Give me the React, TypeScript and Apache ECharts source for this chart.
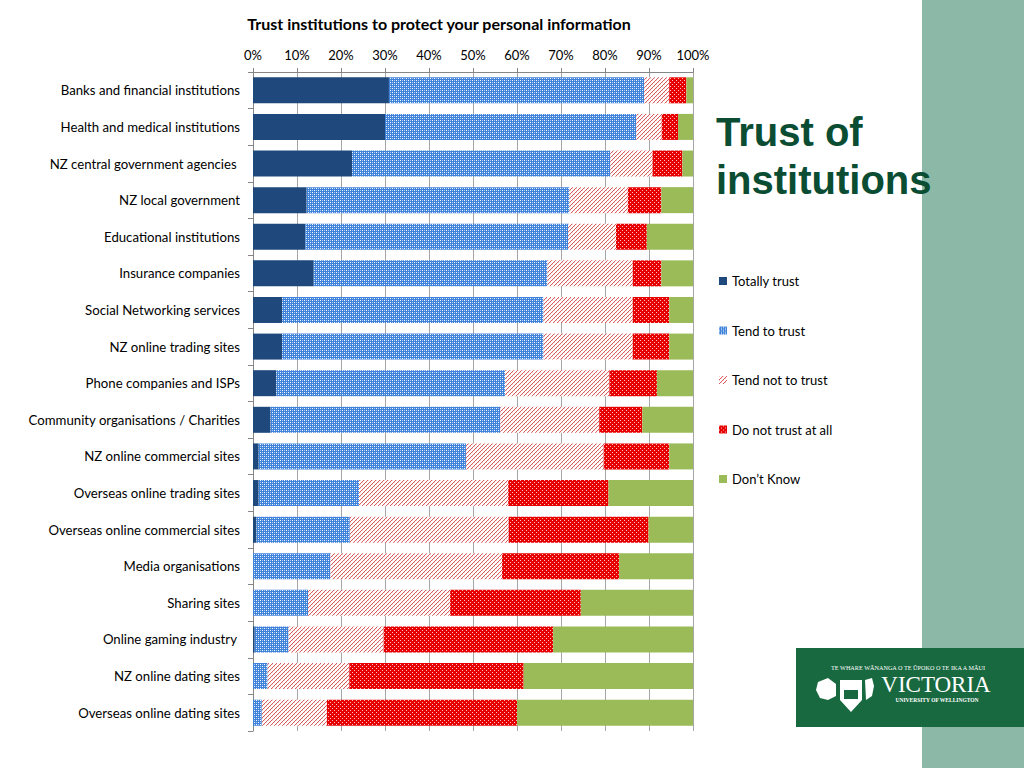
import React, { useEffect, useRef } from "react";
import * as echarts from "echarts";

const categories = [
  "Banks and financial institutions",
  "Health and medical institutions",
  "NZ central government agencies ",
  "NZ local government",
  "Educational institutions",
  "Insurance companies",
  "Social Networking services",
  "NZ online trading sites",
  "Phone companies and ISPs",
  "Community organisations / Charities",
  "NZ online commercial sites",
  "Overseas online trading sites",
  "Overseas online commercial sites",
  "Media organisations",
  "Sharing sites",
  "Online gaming industry ",
  "NZ online dating sites",
  "Overseas online dating sites",
];

const totallyTrust = [30.9, 30.0, 22.5, 12.2, 11.9, 13.8, 6.6, 6.6, 5.3, 4.0, 1.3, 1.3, 0.8, 0, 0, 0.4, 0, 0];
const tendToTrust = [58.0, 57.1, 58.7, 59.7, 59.7, 53.1, 59.4, 59.4, 52.0, 52.2, 47.1, 22.8, 21.2, 17.6, 12.5, 7.7, 3.3, 2.0];
const tendNotToTrust = [5.7, 5.8, 9.6, 13.3, 10.9, 19.4, 20.3, 20.3, 23.7, 22.5, 31.3, 33.9, 36.1, 39.0, 32.3, 21.6, 18.6, 14.8];
const doNotTrust = [3.9, 3.7, 6.8, 7.6, 7.0, 6.5, 8.3, 8.3, 10.8, 9.8, 14.9, 22.8, 31.8, 26.6, 29.7, 38.5, 39.6, 43.2];
const dontKnow = [1.5, 3.4, 2.4, 7.2, 10.5, 7.2, 5.4, 5.4, 8.2, 11.5, 5.4, 19.2, 10.1, 16.8, 25.5, 31.8, 38.5, 40.0];

const seriesNames = ["Totally trust", "Tend to trust", "Tend not to trust", "Do not trust at all", "Don\u2019t Know"];

const chartTitle = "Trust institutions to protect your personal information";

function makePattern(size: number, bg: string, pixels: [number, number, string][]) {
  const c = document.createElement("canvas");
  c.width = size;
  c.height = size;
  const ctx = c.getContext("2d")!;
  ctx.fillStyle = bg;
  ctx.fillRect(0, 0, size, size);
  for (const [x, y, col] of pixels) {
    ctx.fillStyle = col;
    ctx.fillRect(x, y, 1, 1);
  }
  return { image: c.toDataURL(), imageWidth: size, imageHeight: size, repeat: "repeat" } as any;
}

export default function App() {
  const ref = useRef<HTMLDivElement>(null);

  useEffect(() => {
    if (!ref.current) return;
    const chart = echarts.init(ref.current, null, { renderer: "svg" });

    const tendTrustPat = makePattern(4, "#3F82DA", [
      [0, 0, "#FFFFFF"],
      [2, 2, "#FFFFFF"],
      [2, 0, "#A9CAF2"],
      [0, 2, "#A9CAF2"],
    ]);
    const tendNotPat = makePattern(4, "#FFFFFF", [
      [3, 0, "#D85C5C"],
      [2, 1, "#D85C5C"],
      [1, 2, "#D85C5C"],
      [0, 3, "#D85C5C"],
      [0, 0, "#F4D2D2"],
      [2, 2, "#F4D2D2"],
    ]);
    const doNotPat = makePattern(4, "#E60000", [
      [0, 0, "#FAC0C0"],
      [2, 2, "#FAC0C0"],
    ]);

    const colors = ["#1F497D", tendTrustPat, tendNotPat, doNotPat, "#9BBB59"];
    const data = [totallyTrust, tendToTrust, tendNotToTrust, doNotTrust, dontKnow];

    const font = "Lato, 'Open Sans', sans-serif";

    chart.setOption({
      animation: false,
      backgroundColor: "#FFFFFF",
      textStyle: { fontFamily: font },
      grid: { left: 253, top: 72, width: 440, height: 659, containLabel: false },
      legend: {
        orient: "vertical",
        left: 714,
        top: 268,
        itemWidth: 8,
        itemHeight: 8,
        itemGap: 33.5,
        icon: "rect",
        data: seriesNames,
        textStyle: { fontSize: 13, color: "#000", fontFamily: font, lineHeight: 16 },
      },
      xAxis: {
        type: "value",
        position: "top",
        min: 0,
        max: 100,
        interval: 10,
        axisLine: { show: true, lineStyle: { color: "#868686", width: 1 } },
        axisTick: { show: true, length: 4, lineStyle: { color: "#868686" } },
        splitLine: { show: true, lineStyle: { color: "#A6A6A6", width: 1 } },
        axisLabel: { formatter: "{value}%", fontSize: 13, color: "#000", margin: 11, fontFamily: font },
      },
      yAxis: {
        type: "category",
        inverse: true,
        data: categories,
        axisLine: { show: true, lineStyle: { color: "#868686", width: 1 } },
        axisTick: { show: true, length: 5, interval: 0, lineStyle: { color: "#868686" } },
        axisLabel: { fontSize: 13.2, color: "#000", margin: 13, interval: 0, fontFamily: font, padding: [0, 0, 2, 0] },
      },
      series: seriesNames.map((name, i) => ({
        name,
        type: "bar",
        stack: "total",
        barWidth: 26,
        data: data[i],
        itemStyle: { color: colors[i] },
        emphasis: { disabled: true },
      })),
      graphic: [
        {
          type: "text",
          x: 439,
          y: 23,
          style: {
            text: chartTitle,
            font: `bold 16px ${font}`,
            fill: "#000",
            align: "center",
            verticalAlign: "middle",
          },
        },
        {
          type: "rect",
          z: 1,
          shape: { x: 922, y: 0, width: 102, height: 768 },
          style: { fill: "#8CB8A8" },
        },
        {
          type: "text",
          x: 716,
          y: 132,
          z: 5,
          style: {
            text: "Trust of",
            font: "bold 40px 'Liberation Sans', Arial, sans-serif",
            fill: "#0B4D33",
            verticalAlign: "middle",
          },
        },
        {
          type: "text",
          x: 716,
          y: 180,
          z: 5,
          style: {
            text: "institutions",
            font: "bold 40px 'Liberation Sans', Arial, sans-serif",
            fill: "#0B4D33",
            verticalAlign: "middle",
          },
        },
        {
          type: "group",
          z: 10,
          children: [
            {
              type: "rect",
              z: 10,
              shape: { x: 796, y: 648, width: 228, height: 79 },
              style: { fill: "#18693F" },
            },
            {
              type: "text",
              z: 11,
              x: 908,
              y: 667,
              style: {
                text: "TE WHARE WĀNANGA O TE ŪPOKO O TE IKA A MĀUI",
                font: "6.2px 'Liberation Serif', serif",
                fill: "#FFFFFF",
                align: "center",
                verticalAlign: "middle",
              },
            },
            {
              type: "text",
              z: 11,
              x: 936,
              y: 684,
              style: {
                text: "VICTORIA",
                font: "23px 'Liberation Serif', serif",
                fill: "#FFFFFF",
                align: "center",
                verticalAlign: "middle",
              },
            },
            {
              type: "text",
              z: 11,
              x: 937,
              y: 700,
              style: {
                text: "UNIVERSITY OF WELLINGTON",
                font: "bold 5.5px 'Liberation Serif', serif",
                fill: "#FFFFFF",
                align: "center",
                verticalAlign: "middle",
              },
            },
            {
              type: "polygon",
              z: 11,
              shape: { points: [[840, 680], [862, 680], [862, 700], [851, 712], [840, 700]] },
              style: { fill: "#FFFFFF" },
            },
            {
              type: "rect",
              z: 12,
              shape: { x: 844, y: 690, width: 14, height: 9 },
              style: { fill: "#18693F" },
            },
            {
              type: "polygon",
              z: 11,
              shape: { points: [[818, 682], [828, 678], [836, 684], [836, 696], [828, 700], [820, 698], [816, 690]] },
              style: { fill: "#FFFFFF" },
            },
            {
              type: "polygon",
              z: 11,
              shape: { points: [[865, 680], [872, 678], [874, 686], [872, 696], [866, 700]] },
              style: { fill: "#FFFFFF" },
            },
          ],
        },
      ],
    });

    return () => chart.dispose();
  }, []);

  return (
    <div
      ref={ref}
      style={{ position: "fixed", left: 0, top: 0, width: 1024, height: 768 }}
    />
  );
}
